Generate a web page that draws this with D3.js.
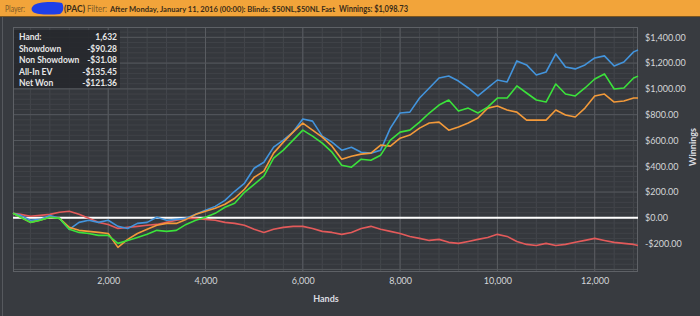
<!DOCTYPE html>
<html>
<head>
<meta charset="utf-8">
<script src="https://cdn.jsdelivr.net/npm/d3@7"></script>
<style>
  body { margin: 0; background: #383b40; }
  svg { display: block; font-family: Lato, "Open Sans", sans-serif; }
</style>
</head>
<body>
<div class="chart"></div>
<script>
// hands played (x) and cumulative winnings per series
var hands = [43,200,400,600,800,1000,1200,1400,1600,1800,2000,2200,2400,2600,2800,3000,3200,3400,3600,3800,
  4000,4200,4400,4600,4800,5000,5200,5400,5600,5800,6000,6200,6400,6600,6800,7000,7200,7400,7600,7800,
  8000,8200,8400,8600,8800,9000,9200,9400,9600,9800,10000,10200,10400,10600,10800,11000,11200,11400,11600,11800,
  12000,12200,12400,12600,12800,12890];

var allInEv = [35,19,-19,-12,19,-4,-89,-35,-19,-35,-19,-66,-82,-43,-35,4,-19,-12,-4,27,
  58,89,136,206,268,385,431,548,603,665,766,750,634,587,525,548,509,502,525,696,
  813,820,929,1007,1085,1100,1061,1007,945,1007,1069,1054,1217,1186,1108,1131,1271,1170,1155,1186,
  1240,1256,1178,1209,1287,1302];

var netWon = [35,4,-35,-19,4,-4,-89,-113,-121,-136,-136,-198,-175,-152,-128,-97,-105,-97,-51,-19,
  4,35,82,113,198,260,323,463,525,603,680,634,579,509,408,393,455,447,486,603,
  665,680,742,813,875,914,828,851,813,859,929,929,1023,968,914,898,1038,960,945,1007,
  1077,1116,999,1007,1085,1099];

var showdown = [35,4,-35,-19,4,-4,-74,-97,-105,-113,-121,-229,-167,-121,-89,-58,-43,-43,-12,27,
  51,74,105,152,222,315,362,502,587,665,735,680,626,556,455,478,494,502,564,556,
  618,642,696,735,742,680,704,735,774,851,867,836,820,758,758,758,836,797,782,851,
  945,960,898,906,929,929];

var nonShowdown = [35,27,12,19,27,43,51,27,-4,-35,-51,-82,-74,-66,-58,-51,-35,-19,-4,-4,
  -12,-19,-35,-43,-58,-89,-113,-89,-74,-66,-66,-82,-105,-113,-128,-113,-82,-66,-89,-105,
  -121,-144,-159,-175,-167,-190,-198,-183,-167,-152,-128,-144,-183,-206,-214,-198,-214,-206,-190,-175,
  -159,-175,-190,-198,-206,-214];

var xTicks = [2000,4000,6000,8000,10000,12000];
var yTicks = [-200,0,200,400,600,800,1000,1200,1400];

var boxLabels = ["Hand:","Showdown","Non Showdown","All-In EV","Net Won"];
var boxValues = ["1,632","-$90.28","-$31.08","-$135.45","-$121.36"];

var W = 700, H = 316;
var svg = d3.select(".chart").append("svg").attr("width", W).attr("height", H);

// header bar
svg.append("rect").attr("x",0).attr("y",0).attr("width",W).attr("height",16).attr("fill","#f2a43a");
svg.append("line").attr("x1",0).attr("x2",W).attr("y1",16.5).attr("y2",16.5).attr("stroke","#7a5520");
svg.append("line").attr("x1",2.5).attr("x2",2.5).attr("y1",17).attr("y2",H).attr("stroke","#56595e");

var head = [
  {t:"Player:", x:5, w:20, bold:false, fs:8.5},
  {t:"(PAC)", x:64, w:21, bold:true, fs:8.5},
  {t:"Filter:", x:87, w:20, bold:false, fs:8.5},
  {t:"After Monday, January 11, 2016 (00:00): Blinds: $50NL,$50NL Fast", x:110, w:225, bold:true, fs:7.5},
  {t:"Winnings: $1,098.73", x:339, w:69, bold:true, fs:8.5}
];
svg.selectAll(".head").data(head).enter().append("text")
  .attr("x", d => d.x).attr("y", 11.5)
  .attr("textLength", d => d.w).attr("lengthAdjust","spacingAndGlyphs")
  .attr("font-size", d => d.fs).attr("font-weight", d => d.bold ? "bold" : "normal")
  .attr("fill", d => d.bold ? "#3a2c18" : "#7d5a28")
  .text(d => d.t);
// scribbled-out name
svg.append("path")
  .attr("d","M33,6 C36,2 52,1 62,3 C64,6 64,12 60,14 C50,15 38,15 33,12 C31,10 31,8 33,6 Z")
  .attr("fill","#1f3fe8");

// scales
var x = d3.scaleLinear().domain([43, 12890]).range([13, 638]);
var y = d3.scaleLinear().domain([-420, 1480]).range([272, 27]);

var g = svg.append("g");
g.append("rect").attr("x",13).attr("y",27).attr("width",625).attr("height",245).attr("fill","#35383d");

// minor grid
g.selectAll(".vminor").data(d3.range(400, 12890, 400)).enter().append("line")
  .attr("x1", d => x(d)).attr("x2", d => x(d)).attr("y1",27).attr("y2",272)
  .attr("stroke","#44474c").attr("stroke-width",1);
g.selectAll(".hminor").data(d3.range(-400, 1480, 40)).enter().append("line")
  .attr("y1", d => y(d)).attr("y2", d => y(d)).attr("x1",13).attr("x2",638)
  .attr("stroke","#404348").attr("stroke-width",1);
// major grid
g.selectAll(".vmajor").data(xTicks).enter().append("line")
  .attr("x1", d => x(d)).attr("x2", d => x(d)).attr("y1",27).attr("y2",272)
  .attr("stroke","#595c61");
g.selectAll(".hmajor").data(d3.range(-400, 1480, 200)).enter().append("line")
  .attr("y1", d => y(d)).attr("y2", d => y(d)).attr("x1",13).attr("x2",638)
  .attr("stroke","#55585d");
g.append("rect").attr("x",13.5).attr("y",27.5).attr("width",624).attr("height",244)
  .attr("fill","none").attr("stroke","#5e6166");

// zero line
g.append("line").attr("x1",13).attr("x2",638).attr("y1",y(0)).attr("y2",y(0))
  .attr("stroke","#ffffff").attr("stroke-width",2);

// series
var series = [
  {v: nonShowdown, c:"#e35a5a"},
  {v: allInEv, c:"#4394dc"},
  {v: showdown, c:"#f39a3a"},
  {v: netWon, c:"#3be23b"}
];
var line = d3.line().x((d,i) => x(hands[i])).y(d => y(d));
g.selectAll(".series").data(series).enter().append("path")
  .attr("d", d => line(d.v)).attr("fill","none")
  .attr("stroke", d => d.c).attr("stroke-width",1.6).attr("stroke-linejoin","round");

// axes
var money = function(v){ var s = "$" + d3.format(",.2f")(Math.abs(v)); return v < 0 ? "-" + s : s; };
var yAxis = svg.append("g").attr("transform","translate(638,0)")
  .call(d3.axisRight(y).tickValues(yTicks).tickSize(0).tickPadding(7).tickFormat(money));
var xAxis = svg.append("g").attr("transform","translate(0,272)")
  .call(d3.axisBottom(x).tickValues(xTicks).tickSize(0).tickPadding(6).tickFormat(d3.format(",")));
[xAxis, yAxis].forEach(function(a){
  a.select(".domain").remove();
  a.selectAll("text").attr("fill","#d4d6d8").attr("font-size",9).attr("font-family","Lato, sans-serif");
});

svg.append("text").attr("x",326).attr("y",302).attr("text-anchor","middle")
  .attr("font-size",9).attr("font-weight","bold").attr("fill","#dcdde0").text("Hands");
svg.append("text").attr("transform","translate(696,147) rotate(-90)").attr("text-anchor","middle")
  .attr("font-size",9).attr("font-weight","bold").attr("fill","#dcdde0").text("Winnings");

// info box
svg.append("rect").attr("x",14).attr("y",30).attr("width",106).attr("height",58)
  .attr("fill","#26282c").attr("fill-opacity",0.9);
svg.selectAll(".blab").data(boxLabels).enter().append("text")
  .attr("x",19).attr("y",(d,i) => 40 + i*11.5)
  .attr("font-size",8.5).attr("font-weight","bold").attr("fill","#e6e6e6").text(d => d);
svg.selectAll(".bval").data(boxValues).enter().append("text")
  .attr("x",117).attr("y",(d,i) => 40 + i*11.5).attr("text-anchor","end")
  .attr("font-size",8.5).attr("font-weight","bold").attr("fill","#e6e6e6").text(d => d);
</script>
</body>
</html>
